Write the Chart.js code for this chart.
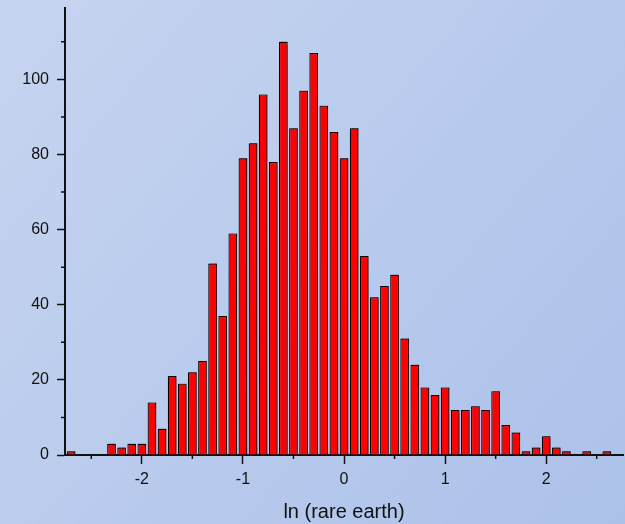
<!DOCTYPE html>
<html>
<head>
<meta charset="utf-8">
<script src="https://cdn.jsdelivr.net/npm/chart.js@4.4.1/dist/chart.umd.min.js"></script>
<style>
  html, body { margin: 0; padding: 0; }
  #wrap { width: 625px; height: 524px; }
</style>
</head>
<body>
<div id="wrap"><canvas id="myChart" width="625" height="524"></canvas></div>
<script>
// bin centres of the histogram (ln of rare earth)
const binCenters = [
    -2.7, -2.6, -2.5, -2.4, -2.3, -2.2, -2.1, -2.0, -1.9, -1.8,
    -1.7, -1.6, -1.5, -1.4, -1.3, -1.2, -1.1, -1.0, -0.9, -0.8,
    -0.7, -0.6, -0.5, -0.4, -0.3, -0.2, -0.1, 0.0, 0.1, 0.2,
    0.3, 0.4, 0.5, 0.6, 0.7, 0.8, 0.9, 1.0, 1.1, 1.2,
    1.3, 1.4, 1.5, 1.6, 1.7, 1.8, 1.9, 2.0, 2.1, 2.2,
    2.3, 2.4, 2.5, 2.6
]
const counts = [
    1, 0, 0, 0, 3, 2, 3, 3, 14, 7,
    21, 19, 22, 25, 51, 37, 59, 79, 83, 96,
    78, 110, 87, 97, 107, 93, 86, 79, 87, 53,
    42, 45, 48, 31, 24, 18, 16, 18, 12, 12,
    13, 12, 17, 8, 6, 1, 2, 5, 2, 1,
    0, 1, 0, 1
]
const xMinorTicks = [-2.5, -1.5, -0.5, 0.5, 1.5, 2.5]
const yMinorTicks = [10, 30, 50, 70, 90, 110]
const xLabel = 'ln (rare earth)'

const bgPlugin = {
    id: 'bg',
    beforeDraw: (chart) => {
        const ctx = chart.ctx
        const g = ctx.createLinearGradient(0, 0, chart.width, chart.height)
        g.addColorStop(0, '#c6d4ef')
        g.addColorStop(1, '#acc1ea')
        ctx.save()
        ctx.fillStyle = g
        ctx.fillRect(0, 0, chart.width, chart.height)
        ctx.restore()
    }
}

const shadowPlugin = {
    id: 'barShadow',
    beforeDatasetsDraw: (chart) => {
        const ctx = chart.ctx
        ctx.save()
        ctx.shadowColor = 'rgba(70,0,0,0.45)'
        ctx.shadowOffsetX = 1.5
        ctx.shadowOffsetY = -1
        ctx.shadowBlur = 1
    },
    afterDatasetsDraw: (chart) => {
        chart.ctx.restore()
    }
}

const minorTickPlugin = {
    id: 'minorTicks',
    afterDraw: (chart) => {
        const ctx = chart.ctx
        const xs = chart.scales.x
        const ys = chart.scales.y
        ctx.save()
        ctx.strokeStyle = '#111'
        ctx.lineWidth = 1.5
        ctx.beginPath()
        xMinorTicks.forEach(v => {
            const px = xs.getPixelForValue(v)
            ctx.moveTo(px, xs.top)
            ctx.lineTo(px, xs.top + 4)
        })
        yMinorTicks.forEach(v => {
            const py = ys.getPixelForValue(v)
            ctx.moveTo(ys.right - 4, py)
            ctx.lineTo(ys.right, py)
        })
        ctx.stroke()
        ctx.restore()
    }
}

const points = binCenters.map((c, i) => ({ x: c, y: counts[i] }))

const ctx = document.querySelector('#myChart').getContext('2d')
new Chart(ctx, {
    type: 'bar',
    data: {
        datasets: [
            {
                data: points,
                backgroundColor: '#ff0000',
                borderColor: '#0a0000',
                borderWidth: 1.2,
                borderSkipped: 'start',
                barPercentage: 0.86,
                categoryPercentage: 1.0
            }
        ]
    },
    options: {
        responsive: false,
        animation: false,
        events: [],
        layout: {
            padding: { left: 0, right: 2, top: 8, bottom: 0 }
        },
        scales: {
            x: {
                type: 'linear',
                min: -2.76,
                max: 2.76,
                offset: false,
                afterFit: (s) => {
                    s.height = 69
                    s.paddingLeft = 0
                    s.paddingRight = 0
                },
                border: { display: true, color: '#111', width: 2 },
                grid: {
                    offset: false,
                    drawOnChartArea: false,
                    drawTicks: true,
                    tickLength: 9,
                    tickColor: '#111',
                    tickWidth: 1.5
                },
                ticks: {
                    stepSize: 1,
                    includeBounds: false,
                    padding: 6,
                    color: '#111',
                    font: { family: 'Liberation Sans, Arial', size: 16 },
                    maxRotation: 0
                },
                title: {
                    display: true,
                    text: xLabel,
                    color: '#111',
                    font: { family: 'Liberation Sans, Arial', size: 20 },
                    padding: { top: 0, bottom: 0 }
                }
            },
            y: {
                type: 'linear',
                min: 0,
                max: 119,
                afterFit: (s) => {
                    s.width = 65
                    s.paddingTop = 0
                    s.paddingBottom = 0
                },
                border: { display: true, color: '#111', width: 2 },
                grid: {
                    drawOnChartArea: false,
                    drawTicks: true,
                    tickLength: 8,
                    tickColor: '#111',
                    tickWidth: 1.5
                },
                ticks: {
                    stepSize: 20,
                    includeBounds: false,
                    padding: 8,
                    color: '#111',
                    font: { family: 'Liberation Sans, Arial', size: 16 }
                }
            }
        },
        plugins: {
            legend: { display: false },
            tooltip: { enabled: false }
        }
    },
    plugins: [bgPlugin, shadowPlugin, minorTickPlugin]
})
</script>
</body>
</html>
